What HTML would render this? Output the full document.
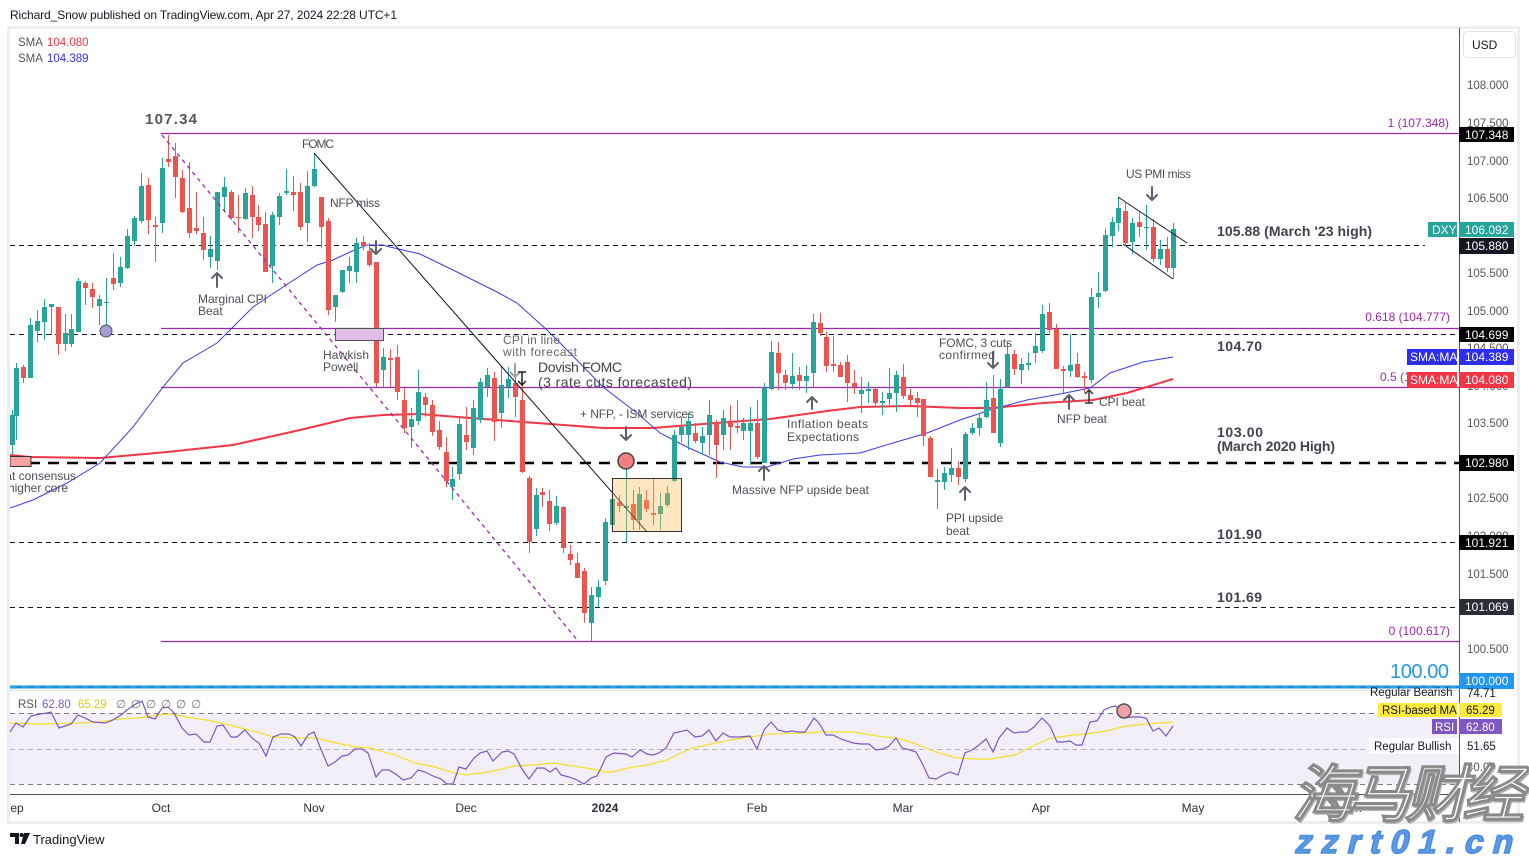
<!DOCTYPE html>
<html><head><meta charset="utf-8">
<style>
html,body{margin:0;padding:0;background:#fff;width:1529px;height:857px;overflow:hidden}
svg{display:block}
text{font-family:"Liberation Sans",sans-serif}
</style></head>
<body>
<svg width="1529" height="857" viewBox="0 0 1529 857" xmlns="http://www.w3.org/2000/svg">
<defs>
<clipPath id="cp"><rect x="10" y="29" width="1449" height="659"/></clipPath>
<clipPath id="cr"><rect x="10" y="690" width="1449" height="104"/></clipPath>
<clipPath id="ct"><rect x="10" y="795" width="1449" height="26"/></clipPath>
</defs>

<!-- header -->
<text x="10" y="19" font-size="12" fill="#131722" textLength="387">Richard_Snow published on TradingView.com, Apr 27, 2024 22:28 UTC+1</text>

<!-- frame -->
<rect x="8.5" y="27.5" width="1510" height="795" fill="#fff" stroke="#eceef2" stroke-width="3"/>

<!-- legend -->
<text x="18" y="46" font-size="11.5" fill="#555">SMA</text>
<text x="47" y="46" font-size="11.5" fill="#f23645">104.080</text>
<text x="18" y="62" font-size="11.5" fill="#555">SMA</text>
<text x="47" y="62" font-size="11.5" fill="#2e2ef2">104.389</text>

<g clip-path="url(#cp)">
<!-- fib / horizontal lines -->
<g stroke="#9c27b0" stroke-width="1.2" fill="none">
<path d="M161 133.5H1459M161 328.5H1459M161 387.5H1459M161 641.5H1459"/>
</g>
<g stroke="#131722" stroke-width="1" fill="none" stroke-dasharray="5,4">
<path d="M10 245.5H1425M10 334.5H1459M10 542.5H1459M10 607.5H1459"/>
</g>
<path d="M10 463H1459" stroke="#000" stroke-width="2.5" stroke-dasharray="11,8" fill="none"/>

<!-- SMAs -->
<polyline fill="none" stroke="#f23645" stroke-width="2" points="10,455 30,457 100,458 167,452 233,445 300,430 350,418 383,415 420,414 470,418 537,423 603,428 653,428 703,424 770,419 827,411 860,407 910,406 960,408 993,408 1043,403 1093,400 1127,393 1173,379"/>
<polyline fill="none" stroke="#3a3af5" stroke-width="1" points="10,508 33,500 67,483 100,463 133,427 163,387 183,363 217,343 253,307 283,287 317,265 333,260 350,252 367,245 383,245 390,247 420,254 453,270 497,292 517,303 547,330 570,353 603,387 637,413 660,433 687,447 720,462 743,467 767,467 793,459 820,455 860,453 893,443 927,433 960,420 993,409 1027,400 1060,394 1090,388 1110,373 1143,362 1173,357"/>

<!-- candles: wicks -->
<path fill="none" stroke="#26a69a" stroke-width="1" d="M12.5 410V455M16.5 363V440M30.5 318V378M37.5 310V342M44.5 299V340M51.5 304V335M65.5 314V351M71.5 314V347M78.5 278V332M99.5 295V325M106.5 278V332M120.5 257V287M127.5 229V269M134.5 216V246M141.5 173V223M162.5 158V233M210.5 236V268M217.5 192V270M224.5 177V212M245.5 188V220M272.5 212V283M279.5 193V225M286.5 169V195M307.5 171V242M314.5 153V187M335.5 295V322M342.5 270V293M349.5 257V283M356.5 238V283M383.5 348V387M411.5 408V448M418.5 370V425M452.5 467V500M459.5 417V480M473.5 400V455M480.5 378V423M487.5 368V397M501.5 367V428M508.5 367V398M536.5 488V536M556.5 496V525M591.5 587V641M598.5 580V607M605.5 518V585M612.5 496V525M626.5 467V542M639.5 487V530M660.5 493V530M667.5 486V507M674.5 430V482M681.5 417V442M688.5 413V450M702.5 427V455M709.5 400V455M723.5 410V450M743.5 418V440M750.5 407V465M764.5 383V463M771.5 341V390M792.5 353V389M806.5 365V393M813.5 314V388M861.5 377V413M868.5 382V403M882.5 392V415M889.5 368V405M896.5 371V412M937.5 469V509M944.5 467V490M951.5 448V482M965.5 432V482M972.5 423V435M979.5 413V436M986.5 382V418M1000.5 379V447M1007.5 343V388M1021.5 358V384M1028.5 353V370M1035.5 333V363M1042.5 305V353M1070.5 334V377M1091.5 288V383M1098.5 272V308M1105.5 229V292M1112.5 217V247M1118.5 197V231M1132.5 218V254M1146.5 205V250M1160.5 240V265M1173.5 223V279"/>
<path fill="none" stroke="#ef5350" stroke-width="1" d="M23.5 365V383M58.5 307V355M85.5 281V305M92.5 283V308M113.5 253V290M148.5 178V234M155.5 217V262M168.5 135V167M175.5 143V198M182.5 170V213M189.5 162V238M196.5 192V234M203.5 217V260M231.5 190V220M238.5 195V233M252.5 186V238M258.5 205V231M265.5 212V272M293.5 176V211M300.5 183V230M321.5 197V248M328.5 218V315M363.5 236V250M369.5 243V267M376.5 262V387M390.5 349V387M397.5 345V400M404.5 388V433M425.5 393V417M432.5 400V436M439.5 421V450M446.5 437V487M466.5 407V450M494.5 372V441M515.5 375V417M522.5 383V473M529.5 476V553M542.5 488V507M549.5 490V531M563.5 506V553M570.5 545V565M577.5 553V578M584.5 568V623M619.5 495V512M633.5 490V530M646.5 490V512M653.5 479V525M695.5 423V443M716.5 420V478M730.5 405V450M737.5 400V433M757.5 400V459M778.5 342V390M785.5 370V390M799.5 367V390M820.5 313V336M826.5 332V372M833.5 336V372M840.5 362V377M847.5 355V402M854.5 370V394M875.5 387V407M903.5 364V399M910.5 389V405M917.5 392V417M923.5 399V446M930.5 436V477M958.5 461V485M993.5 375V433M1014.5 350V375M1049.5 303V333M1056.5 324V369M1063.5 366V393M1077.5 353V378M1084.5 372V393M1125.5 203V245M1139.5 212V237M1153.5 219V262M1167.5 237V272"/>
<!-- candles: bodies -->
<path fill="#26a69a" d="M10 415h5v30h-5zM14 368h5v48h-5zM28 325h5v53h-5zM35 321h5v10h-5zM42 307h5v15h-5zM49 304h5v3h-5zM63 333h5v11h-5zM69 329h5v15h-5zM76 281h5v51h-5zM97 299h5v7h-5zM104 302h5v1h-5zM118 267h5v16h-5zM125 236h5v32h-5zM132 218h5v23h-5zM139 186h5v35h-5zM160 168h5v55h-5zM208 249h5v8h-5zM215 192h5v69h-5zM222 187h5v10h-5zM243 193h5v26h-5zM270 215h5v51h-5zM277 196h5v21h-5zM284 191h5v2h-5zM305 186h5v37h-5zM312 169h5v17h-5zM333 295h5v12h-5zM340 270h5v22h-5zM347 266h5v5h-5zM354 243h5v29h-5zM381 357h5v13h-5zM409 419h5v8h-5zM416 392h5v29h-5zM450 479h5v8h-5zM457 424h5v50h-5zM471 408h5v40h-5zM478 382h5v38h-5zM485 375h5v12h-5zM499 385h5v28h-5zM506 379h5v8h-5zM534 495h5v34h-5zM554 506h5v17h-5zM589 595h5v28h-5zM596 587h5v10h-5zM603 522h5v59h-5zM610 499h5v26h-5zM624 506h5v2h-5zM637 494h5v26h-5zM658 506h5v8h-5zM665 493h5v12h-5zM672 435h5v46h-5zM679 427h5v8h-5zM686 421h5v14h-5zM700 436h5v7h-5zM707 415h5v20h-5zM721 418h5v17h-5zM741 423h5v8h-5zM748 423h5v8h-5zM762 388h5v75h-5zM769 352h5v37h-5zM790 376h5v8h-5zM804 376h5v5h-5zM811 322h5v51h-5zM859 390h5v4h-5zM866 389h5v2h-5zM880 401h5v2h-5zM887 393h5v6h-5zM894 375h5v18h-5zM935 480h5v2h-5zM942 473h5v9h-5zM949 468h5v7h-5zM963 434h5v45h-5zM970 428h5v5h-5zM977 418h5v10h-5zM984 400h5v17h-5zM998 389h5v54h-5zM1005 354h5v33h-5zM1019 364h5v6h-5zM1026 363h5v2h-5zM1033 346h5v7h-5zM1040 314h5v37h-5zM1068 365h5v6h-5zM1089 297h5v83h-5zM1096 293h5v4h-5zM1103 235h5v56h-5zM1110 222h5v14h-5zM1116 208h5v15h-5zM1130 223h5v19h-5zM1144 227h5v1h-5zM1158 249h5v10h-5zM1171 229h5v39h-5z"/>
<path fill="#ef5350" d="M21 367h5v11h-5zM56 307h5v37h-5zM83 283h5v5h-5zM90 289h5v8h-5zM111 278h5v6h-5zM146 185h5v35h-5zM153 225h5v2h-5zM166 159h5v3h-5zM173 156h5v21h-5zM180 178h5v34h-5zM187 208h5v25h-5zM194 228h5v3h-5zM201 233h5v17h-5zM229 192h5v26h-5zM236 217h5v1h-5zM250 195h5v22h-5zM256 217h5v8h-5zM263 224h5v48h-5zM291 192h5v3h-5zM298 192h5v35h-5zM319 197h5v30h-5zM326 221h5v89h-5zM361 242h5v4h-5zM367 251h5v14h-5zM374 262h5v121h-5zM388 358h5v2h-5zM395 357h5v35h-5zM402 400h5v28h-5zM423 397h5v8h-5zM430 405h5v27h-5zM437 430h5v17h-5zM444 452h5v29h-5zM464 435h5v7h-5zM492 378h5v44h-5zM513 383h5v14h-5zM520 400h5v72h-5zM527 478h5v64h-5zM540 492h5v3h-5zM547 501h5v23h-5zM561 507h5v41h-5zM568 554h5v6h-5zM575 563h5v15h-5zM582 571h5v42h-5zM617 502h5v4h-5zM631 504h5v16h-5zM644 500h5v9h-5zM651 513h5v2h-5zM693 433h5v8h-5zM714 423h5v22h-5zM728 423h5v4h-5zM735 426h5v2h-5zM755 423h5v34h-5zM776 353h5v20h-5zM783 375h5v8h-5zM797 375h5v6h-5zM818 323h5v10h-5zM824 337h5v29h-5zM831 364h5v2h-5zM838 365h5v12h-5zM845 362h5v21h-5zM852 383h5v4h-5zM873 389h5v14h-5zM901 377h5v19h-5zM908 395h5v5h-5zM915 398h5v5h-5zM921 399h5v37h-5zM928 438h5v39h-5zM956 468h5v9h-5zM991 398h5v35h-5zM1012 354h5v15h-5zM1047 312h5v18h-5zM1054 329h5v40h-5zM1061 369h5v2h-5zM1075 364h5v13h-5zM1082 376h5v2h-5zM1123 211h5v32h-5zM1137 222h5v5h-5zM1151 227h5v32h-5zM1165 249h5v19h-5z"/>

<!-- drawings -->
<line x1="162" y1="135" x2="578" y2="641" stroke="#9c27b0" stroke-width="1.3" stroke-dasharray="4,4"/>
<line x1="314" y1="153" x2="647" y2="532" stroke="#131722" stroke-width="1"/>
<line x1="1118" y1="197" x2="1187" y2="243" stroke="#131722" stroke-width="1"/>
<line x1="1123" y1="244" x2="1173" y2="279" stroke="#131722" stroke-width="1"/>
<rect x="612.5" y="478.5" width="69" height="53" fill="rgba(255,183,77,0.35)" stroke="#333" stroke-width="1"/>
<circle cx="626" cy="461" r="8" fill="#f28080" stroke="#444" stroke-width="1.5"/>
<rect x="335.5" y="328.5" width="48" height="12" fill="#e1bee7" stroke="#555" stroke-width="1"/>
<rect x="10" y="456.5" width="21" height="10" fill="#f7a1a1" stroke="#333" stroke-width="1"/>
<circle cx="106" cy="331" r="6" fill="#a89bd6" stroke="#555" stroke-width="1"/>

<!-- arrows -->
<g stroke="#5d606b" stroke-width="2" fill="none" stroke-linecap="round" stroke-linejoin="round">
<path d="M217 273V287M212 278L217 273L222 278"/>
<path d="M376 241V254M371 249L376 254L381 249"/>
<path d="M626 427V440M621 435L626 440L631 435"/>
<path d="M764 466V480M759 471L764 466L769 471"/>
<path d="M812 397V409M807 402L812 397L817 402"/>
<path d="M965 487V500M960 492L965 487L970 492"/>
<path d="M993 352V368M988 363L993 368L998 363"/>
<path d="M1069 395V409M1064 400L1069 395L1074 400"/>
<path d="M1152 187V200M1147 195L1152 200L1157 195"/>
</g>
<path d="M515 363V377M510 372L515 377L520 372" stroke="#a0a0a8" stroke-width="2" fill="none"/>
<path d="M522 372V385M518 381L522 385L526 381M518 372H526" stroke="#222" stroke-width="1.5" fill="none"/>
<path d="M1089 390V403M1085 394L1089 390L1093 394M1085 403H1093" stroke="#333" stroke-width="1.5" fill="none"/>

<!-- annotations -->
<g font-size="12" fill="#4d4f57">
<text x="302" y="148" textLength="32">FOMC</text>
<text x="330" y="207" textLength="50">NFP miss</text>
<text x="198" y="303" textLength="69">Marginal CPI</text>
<text x="198" y="315">Beat</text>
<text x="323" y="359" textLength="46">Hawkish</text>
<text x="323" y="371">Powell</text>
<text x="503" y="344" textLength="57" fill="#666">CPI in line</text>
<text x="503" y="356" textLength="74" fill="#666">with forecast</text>
<text x="580" y="418" textLength="114">+ NFP, - ISM services</text>
<text x="787" y="428" textLength="81">Inflation beats</text>
<text x="787" y="441" textLength="72">Expectations</text>
<text x="732" y="494" textLength="137">Massive NFP upside beat</text>
<text x="946" y="522" textLength="57">PPI upside</text>
<text x="946" y="535">beat</text>
<text x="939" y="347" textLength="73">FOMC, 3 cuts</text>
<text x="939" y="359" textLength="56">confirmed</text>
<text x="1057" y="423" textLength="50">NFP beat</text>
<text x="1099" y="406" textLength="46">CPI beat</text>
<text x="1126" y="178" textLength="65">US PMI miss</text>
<text x="76" y="480" text-anchor="end">beat consensus</text>
<text x="68" y="492" text-anchor="end">higher core</text>
</g>
<g font-size="14" fill="#444">
<text x="538" y="372" textLength="84">Dovish FOMC</text>
<text x="538" y="387" textLength="154">(3 rate cuts forecasted)</text>
</g>
<g font-size="14" fill="#2a2e39" font-weight="bold" fill-opacity="0.9">
<text x="1217" y="236" textLength="155">105.88 (March '23 high)</text>
<text x="1217" y="351" textLength="45">104.70</text>
<text x="1217" y="437" textLength="46">103.00</text>
<text x="1217" y="451" textLength="118">(March 2020 High)</text>
<text x="1217" y="539" textLength="45">101.90</text>
<text x="1217" y="602" textLength="45">101.69</text>
</g>
<text x="145" y="124" font-size="15" font-weight="bold" fill="#555" textLength="52">107.34</text>
<g font-size="12" fill="#9c27b0">
<text x="1449" y="127" text-anchor="end">1 (107.348)</text>
<text x="1450" y="321" text-anchor="end">0.618 (104.777)</text>
<text x="1380" y="381">0.5 (1</text>
<text x="1450" y="635" text-anchor="end">0 (100.617)</text>
</g>
<text x="1390" y="678" font-size="20" fill="#2196f3" textLength="59">100.00</text>
</g>

<!-- 100 line -->
<path d="M10 687H1459" stroke="#1e88e5" stroke-width="3"/>
<path d="M10 687H1459" stroke="#26c6da" stroke-width="1" stroke-dasharray="6,6"/>
<path d="M10 690.5H1459" stroke="#e0e3eb" stroke-width="1"/>

<!-- RSI pane -->
<g clip-path="url(#cr)">
<rect x="10" y="713" width="1449" height="71" fill="#f2eff9"/>
<path d="M10 713.5H1459M10 784.5H1459" stroke="#787b86" stroke-width="1" stroke-dasharray="5,4"/>
<path d="M10 749.5H1459" stroke="#b2b5be" stroke-width="1" stroke-dasharray="5,4"/>
<polyline fill="none" stroke="#f5e02a" stroke-width="1.2" points="10,723 40,724 79,723 99,722 119,719 138,718 158,715 170,714 186,717 206,720 221,723 237,727 257,732 273,737 297,738 316,738 336,743 356,747 370,748 395,755 415,763 435,767 451,772 465,775 482,773 498,770 514,766 534,765 554,763 573,766 593,769 605,772 612,772 628,768 647,765 667,760 679,754 693,748 711,744 730,740 750,737 770,734 806,733 821,732 853,732 877,736 901,739 916,744 936,752 956,758 976,759 991,759 1015,755 1035,745 1051,738 1074,735 1086,734 1106,731 1122,727 1146,724 1161,723 1173,722"/>
<polyline fill="none" stroke="#7e57c2" stroke-width="1.2" points="10,732 16,723 23,727 31,716 40,714 47,713 51,712 59,728 65,726 71,724 78,715 85,718 93,722 105,723 113,720 121,715 127,710 134,705 142,701 148,717 155,719 162,708 168,707 174,713 182,728 189,735 196,734 204,742 210,742 217,726 223,725 231,737 237,737 245,730 253,739 259,743 266,756 273,737 281,734 289,734 295,737 301,746 308,735 314,732 320,747 328,766 335,762 342,756 348,755 355,749 362,749 368,753 376,777 382,770 389,770 397,775 403,780 411,778 418,770 425,772 433,776 441,779 447,784 453,784 459,767 466,769 474,758 480,753 487,751 493,761 502,752 508,751 514,754 522,769 529,779 537,768 544,768 550,772 556,768 561,775 569,777 577,780 584,784 591,778 597,776 600,770 606,757 614,753 626,754 632,757 640,750 647,754 653,755 659,753 666,748 674,733 687,730 695,737 702,736 709,730 716,741 723,733 730,737 740,737 750,736 757,749 764,730 771,722 778,730 786,732 792,731 798,732 805,732 814,718 819,723 826,735 833,735 841,739 853,743 861,744 869,744 876,750 883,749 889,746 896,738 902,748 910,750 916,752 922,763 929,778 936,779 943,775 950,772 958,775 965,753 972,750 979,745 986,739 993,752 999,738 1007,728 1014,733 1021,732 1027,732 1034,727 1042,718 1050,726 1057,742 1063,742 1070,741 1076,745 1082,745 1090,722 1097,721 1104,710 1111,707 1116,706 1124,718 1132,717 1140,717 1146,718 1153,731 1159,728 1166,736 1173,726"/>
<circle cx="1124" cy="711" r="7" fill="#f4a0a8" stroke="#555" stroke-width="1.5"/>
<text x="18" y="708" font-size="11.5" fill="#555">RSI</text>
<text x="42" y="708" font-size="11.5" fill="#7e57c2">62.80</text>
<text x="78" y="708" font-size="11.5" fill="#e8c800">65.29</text>
<text x="116" y="708" font-size="11.5" fill="#777" letter-spacing="5">∅∅∅∅∅∅</text>
</g>

<!-- axis lines -->
<path d="M10 794.5H1459" stroke="#50535e" stroke-width="1"/>
<path d="M1459.5 28V822" stroke="#50535e" stroke-width="1"/>

<!-- time axis -->
<g font-size="12" fill="#2a2e39" text-anchor="middle" clip-path="url(#ct)">
<text x="13" y="812">Sep</text>
<text x="161" y="812">Oct</text>
<text x="314" y="812">Nov</text>
<text x="466" y="812">Dec</text>
<text x="605" y="812" font-weight="bold">2024</text>
<text x="757" y="812">Feb</text>
<text x="903" y="812">Mar</text>
<text x="1041" y="812">Apr</text>
<text x="1193" y="812">May</text>
<text x="1352" y="812">Jun</text>
</g>

<!-- price axis -->
<rect x="1463.5" y="31.5" width="52" height="26" rx="4" fill="#fff" stroke="#e0e3eb"/>
<text x="1472" y="49" font-size="12" fill="#131722">USD</text>
<g font-size="11.5" fill="#555">
<text x="1467" y="89">108.000</text>
<text x="1467" y="127">107.500</text>
<text x="1467" y="165">107.000</text>
<text x="1467" y="202">106.500</text>
<text x="1467" y="277">105.500</text>
<text x="1467" y="315">105.000</text>
<text x="1467" y="352">104.500</text>
<text x="1467" y="390">104.000</text>
<text x="1467" y="427">103.500</text>
<text x="1467" y="465">103.000</text>
<text x="1467" y="502">102.500</text>
<text x="1467" y="540">102.000</text>
<text x="1467" y="578">101.500</text>
<text x="1467" y="615">101.000</text>
<text x="1467" y="653">100.500</text>
</g>
<g font-size="12" fill="#fff">
<rect x="1459" y="127" width="55" height="15" fill="#000"/><text x="1465" y="139">107.348</text>
<rect x="1428" y="222" width="29" height="15" fill="#26a69a"/><text x="1432" y="234">DXY</text>
<rect x="1459" y="222" width="55" height="15" fill="#26a69a"/><text x="1465" y="234">106.092</text>
<rect x="1459" y="238" width="55" height="16" fill="#131722"/><text x="1465" y="250">105.880</text>
<rect x="1459" y="327" width="55" height="15" fill="#000"/><text x="1465" y="339">104.699</text>
<rect x="1407" y="349" width="50" height="16" fill="#2e2ef2"/><text x="1410" y="361">SMA:MA</text>
<rect x="1459" y="349" width="55" height="16" fill="#2e2ef2"/><text x="1465" y="361">104.389</text>
<rect x="1407" y="372" width="50" height="16" fill="#f23645"/><text x="1410" y="384">SMA:MA</text>
<rect x="1459" y="372" width="55" height="16" fill="#f23645"/><text x="1465" y="384">104.080</text>
<rect x="1459" y="455" width="55" height="16" fill="#000"/><text x="1465" y="467">102.980</text>
<rect x="1459" y="535" width="55" height="15" fill="#000"/><text x="1465" y="547">101.921</text>
<rect x="1459" y="599" width="55" height="16" fill="#2a2e39"/><text x="1465" y="611">101.069</text>
<rect x="1459" y="673" width="55" height="16" fill="#2196f3"/><text x="1465" y="685">100.000</text>
</g>

<!-- RSI axis -->
<text x="1370" y="696" font-size="11.5" fill="#131722">Regular Bearish</text>
<text x="1467" y="697" font-size="11.5" fill="#131722">74.71</text>
<rect x="1378" y="703" width="79" height="14" fill="#ffeb3b"/>
<text x="1382" y="714" font-size="11.5" fill="#131722">RSI-based MA</text>
<rect x="1459" y="703" width="43" height="14" fill="#ffeb3b"/>
<text x="1466" y="714" font-size="11.5" fill="#131722">65.29</text>
<rect x="1432" y="719" width="25" height="15" fill="#7e57c2"/>
<text x="1435" y="731" font-size="11.5" fill="#fff">RSI</text>
<rect x="1459" y="719" width="43" height="15" fill="#7e57c2"/>
<text x="1466" y="731" font-size="11.5" fill="#fff">62.80</text>
<rect x="1369" y="738" width="90" height="16" fill="#fff"/>
<text x="1374" y="750" font-size="11.5" fill="#131722">Regular Bullish</text>
<text x="1467" y="750" font-size="11.5" fill="#131722">51.65</text>
<text x="1467" y="771" font-size="11.5" fill="#555">40.00</text>

<!-- TradingView logo -->
<path d="M10 833h9v11h-4v-7h-5z" fill="#131722"/>
<circle cx="21.5" cy="835" r="2" fill="#131722"/>
<path d="M24 833h6l-5 11h-4z" fill="#131722"/>
<text x="33" y="844" font-size="13" fill="#131722">TradingView</text>

<!-- watermark -->
<g transform="translate(1292,816) skewX(-14)">
<text x="2" y="2" font-size="62" font-weight="bold" font-family="'Liberation Sans','Noto Sans CJK SC',sans-serif" fill="#b0b0b0" textLength="232">海马财经</text>
<text x="0" y="0" font-size="62" font-weight="bold" font-family="'Liberation Sans','Noto Sans CJK SC',sans-serif" fill="#fff" stroke="#8a8a8a" stroke-width="1.2" textLength="232">海马财经</text>
</g>
<g transform="translate(1294,853) skewX(-14)">
<text x="0" y="0" font-size="33" font-weight="bold" fill="#5a9ae6" stroke="#4d8ddc" stroke-width="1.6" textLength="224" letter-spacing="7">zzrt01.cn</text>
</g>
</svg>
</body></html>
